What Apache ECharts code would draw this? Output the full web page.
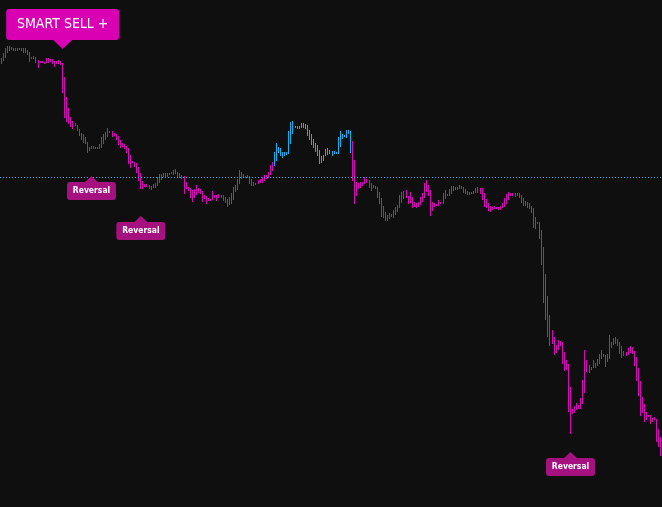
<!DOCTYPE html>
<html>
<head>
<meta charset="utf-8">
<title>SMART SELL</title>
<script src="https://cdn.jsdelivr.net/npm/echarts@6.0.0/dist/echarts.min.js"></script>
<style>
    html, body { margin: 0; padding: 0; background: #0f0f0f; }
    #main { width: 662px; height: 507px; }
</style>
</head>
<body>
<div id="main"></div>
<script>
// 价格数据: 每根K线的最高价 / 最低价
var highs = [
    449, 454, 459, 461, 461, 460, 459, 459, 459, 459, 459, 459, 459, 457, 455, 450, 451, 450, 447, 446,
    446, 445, 449, 449, 448, 448, 446, 446, 447, 446, 444, 430, 410, 399, 390, 386, 384, 382, 378, 374,
    373, 370, 365, 360, 361, 361, 360, 360, 363, 370, 373, 375, 379, 376, 376,
    374, 373, 371, 367, 364, 363, 361, 359, 352, 346, 345, 344, 340, 334, 326, 323, 323, 322, 321, 323,
    324, 330, 333, 333, 334, 334, 334, 334, 335, 337, 338, 335, 334, 332, 331, 325, 320, 319, 317, 318,
    322, 319, 318, 316, 312, 311, 309, 308, 316, 312, 312, 313, 312, 312, 310,
    308, 310, 314, 320, 322, 328, 337, 335, 333, 331, 332, 331, 328, 325, 324, 327, 328, 330, 332, 332,
    335, 342, 345, 355, 364, 360, 359, 355, 355, 355, 376, 385, 386, 381, 381, 381, 384, 384, 383, 382,
    377, 373, 368, 364, 362, 357, 351, 352, 358, 359, 357, 356,
    356, 355, 370, 376, 373, 372, 377, 377, 376, 366, 347, 325, 324, 325, 325, 330, 328, 327, 324, 322,
    321, 320, 315, 309, 301, 295, 292, 294, 293, 297, 300, 302, 312, 315, 316, 317, 311, 315, 310, 305,
    304, 305, 310, 314, 324, 327, 322, 317, 305, 304, 303, 307, 305, 314,
    317, 313, 318, 321, 321, 320, 320, 322, 321, 320, 318, 316, 315, 315, 316, 319, 320, 319, 319, 314,
    308, 304, 301, 300, 301, 300, 300, 301, 304, 309, 313, 315, 314, 314, 314, 314, 314, 312, 309, 306,
    305, 304, 301, 299, 290, 285, 285, 277, 260, 233, 211, 192,
    177, 170, 162, 167, 166, 165, 155, 147, 143, 120, 98, 101, 104, 102, 109, 127, 157, 147, 142, 140,
    147, 144, 148, 153, 157, 153, 152, 153, 172, 165, 169, 170, 168, 165, 161, 156, 155, 159, 161, 160,
    156, 150, 139, 126, 110, 103, 95, 92, 92, 89, 90, 88, 78, 70
];
var lows = [
    444, 447, 450, 455, 457, 458, 457, 457, 457, 458, 457, 455, 455, 453, 446, 449, 449, 445, 440, 445,
    445, 444, 445, 445, 446, 444, 441, 444, 444, 443, 415, 390, 386, 384, 381, 379, 382, 377, 372, 368,
    365, 364, 355, 357, 359, 359, 359, 359, 359, 360, 364, 368, 371, 375, 371,
    372, 368, 363, 360, 361, 359, 355, 344, 340, 345, 341, 335, 327, 319, 319, 321, 321, 319, 318, 320,
    320, 322, 325, 328, 331, 330, 331, 333, 334, 333, 334, 331, 330, 329, 314, 319, 317, 310, 306, 310,
    313, 315, 314, 306, 309, 304, 307, 307, 308, 310, 307, 310, 310, 307, 305,
    301, 303, 304, 308, 316, 318, 324, 329, 330, 330, 330, 324, 322, 322, 323, 324, 325, 325, 327, 329,
    330, 333, 337, 342, 347, 355, 352, 350, 352, 353, 354, 364, 374, 380, 379, 379, 380, 380, 379, 372,
    368, 363, 360, 356, 352, 344, 345, 347, 352, 353, 354, 352,
    354, 354, 354, 361, 369, 371, 370, 374, 355, 327, 304, 312, 319, 320, 322, 324, 325, 320, 317, 320,
    319, 310, 304, 291, 290, 287, 287, 289, 291, 290, 293, 296, 300, 305, 309, 310, 304, 305, 300, 301,
    300, 301, 303, 306, 310, 316, 312, 292, 297, 301, 302, 302, 304, 304,
    309, 312, 312, 314, 317, 318, 318, 319, 319, 315, 314, 313, 313, 314, 314, 315, 315, 314, 308, 301,
    300, 297, 296, 298, 299, 299, 298, 298, 300, 301, 304, 308, 312, 312, 311, 312, 310, 305, 302, 302,
    300, 299, 295, 280, 279, 284, 269, 243, 205, 188, 171, 162,
    164, 153, 155, 158, 162, 144, 137, 138, 96, 74, 94, 95, 98, 99, 99, 104, 115, 136, 135, 138,
    140, 140, 142, 144, 149, 151, 141, 146, 149, 160, 163, 164, 162, 154, 150, 152, 152, 153, 155, 154,
    142, 127, 112, 92, 95, 86, 88, 91, 84, 86, 88, 66, 61, 52
];
// 上涨趋势区间(蓝色K线)
var upRange = [133, 170];
// 虚线水平位
var level = 329.5;
// 信号标签
var signalIdx = [30, 44, 68, 277];
var signalVal = [458, 331, 291, 55];
var signalText = ['SMART SELL +', 'Reversal', 'Reversal', 'Reversal'];

(function() {
    //1.实例化对象
    var myChart = echarts.init(document.querySelector("#main"));
    var downColor = '#d907bd';
    var upColor = '#06b6ef';
    var narrow = "'Liberation Sans Narrow', 'DejaVu Sans Condensed', 'Roboto Condensed', Roboto, sans-serif";

    var categories = highs.map(function(v, i) { return i + 1; });
    var barData = highs.map(function(v, i) { return [i, v, lows[i]]; });

    var sellPath = 'path://M3,0 L110,0 Q113,0 113,3 L113,28 Q113,31 110,31 L66,31 L56.5,40 L47,31 L3,31 Q0,31 0,28 L0,3 Q0,0 3,0 Z';
    var revPath = 'path://M24.5,0 L31,6 L46,6 Q49,6 49,9 L49,21 Q49,24 46,24 L3,24 Q0,24 0,21 L0,9 Q0,6 3,6 L18,6 Z';

    var signalData = signalIdx.map(function(idx, k) {
        var isSell = signalText[k].indexOf('SMART') === 0;
        return {
            value: [idx, signalVal[k]],
            symbol: isSell ? sellPath : revPath,
            symbolSize: isSell ? [113, 40] : [49, 24],
            symbolOffset: isSell ? [0, -20] : [0, 12],
            itemStyle: { color: isSell ? '#d800b2' : '#a5117f', opacity: 1 },
            label: {
                show: true,
                position: 'inside',
                offset: isSell ? [0, -4.5] : [0, 3],
                formatter: signalText[k],
                color: '#ffffff',
                fontFamily: narrow,
                fontSize: isSell ? 14 : 8.5,
                fontWeight: isSell ? 'normal' : 'bold'
            }
        };
    });

    //2.指定配置项和数据
    var option = {
        backgroundColor: '#0f0f0f',
        animation: false,
        grid: { left: 0, right: 0, top: 0, bottom: 0 },
        xAxis: {
            type: 'category',
            data: categories,
            boundaryGap: true,
            show: false
        },
        yAxis: {
            type: 'value',
            min: 0,
            max: 507,
            show: false
        },
        series: [{
                name: 'bars',
                type: 'custom',
                silent: true,
                data: barData,
                encode: { x: 0, y: [1, 2] },
                renderItem: function(params, api) {
                    var i = api.value(0);
                    var top = api.coord([i, api.value(1)]);
                    var bottom = api.coord([i, api.value(2)]);
                    var y = Math.round(top[1]);
                    var h = Math.max(1, Math.round(bottom[1]) - y + 1);
                    var up = i >= upRange[0] && i <= upRange[1];
                    return {
                        type: 'rect',
                        shape: { x: Math.floor(top[0]), y: y, width: 1, height: h },
                        style: { fill: up ? upColor : downColor }
                    };
                }
            },
            {
                name: 'signals',
                type: 'scatter',
                silent: true,
                z: 5,
                data: signalData,
                markLine: {
                    silent: true,
                    symbol: ['none', 'none'],
                    label: { show: false },
                    lineStyle: { color: '#1fb7e0', width: 1, type: [1, 2], opacity: 1 },
                    data: [{ yAxis: level }]
                }
            }
        ]
    };
    //3.把配置项给实例对象
    myChart.setOption(option);
    //4.让图表跟随屏幕自动去适应
    window.addEventListener("resize", function() {
        myChart.resize();
    });
})();
</script>
</body>
</html>
